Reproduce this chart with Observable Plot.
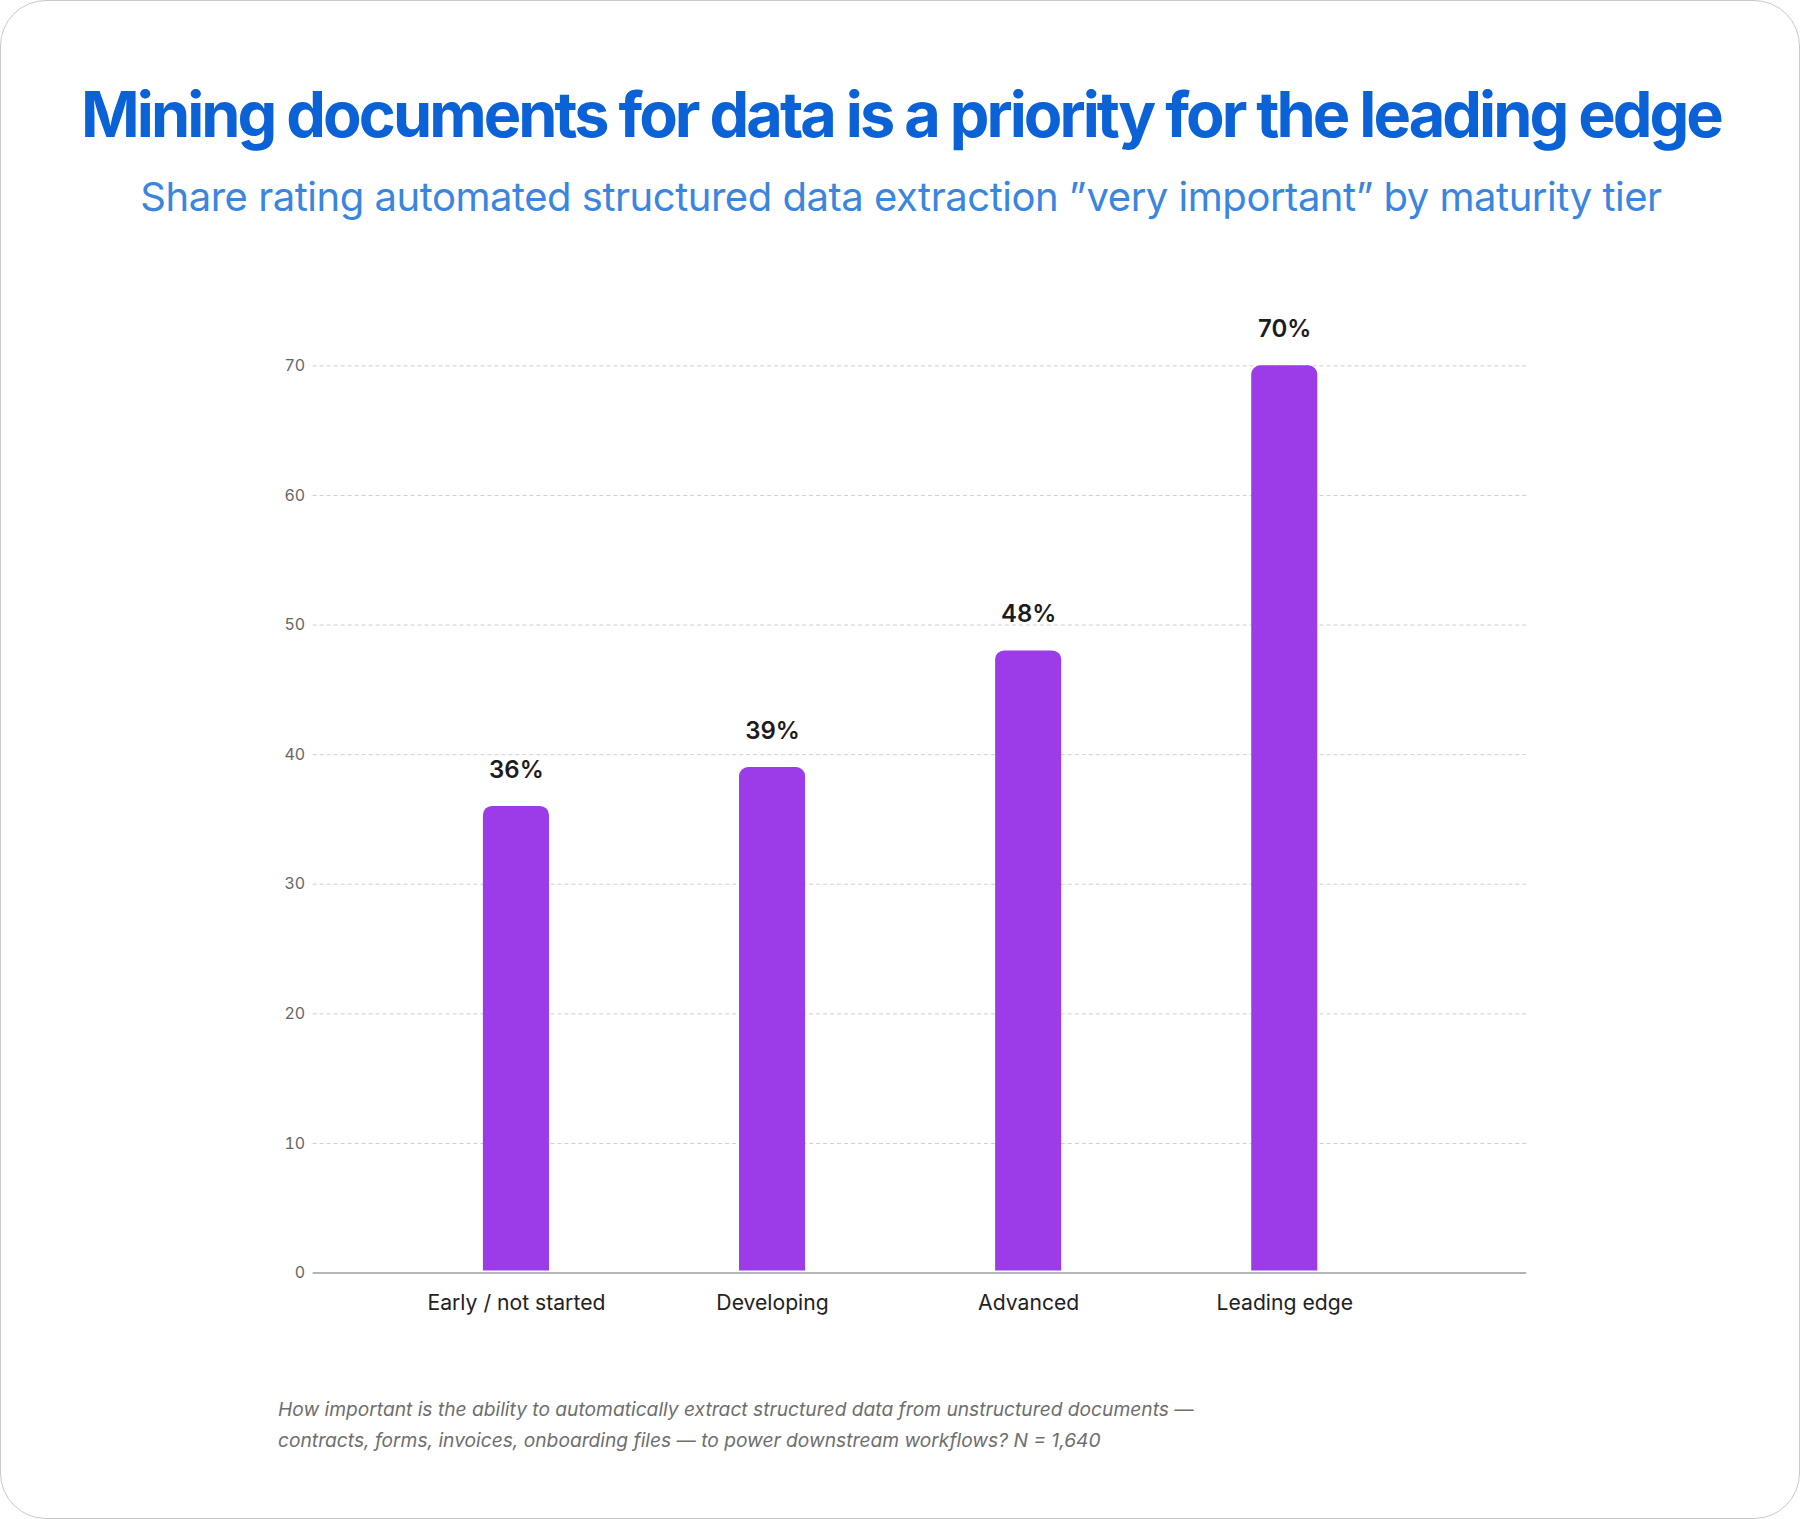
<!DOCTYPE html>
<html><head><meta charset="utf-8">
<script src="https://cdn.jsdelivr.net/npm/d3@7"></script>
<script src="https://cdn.jsdelivr.net/npm/@observablehq/plot@0.6"></script>
<style>
html,body{margin:0;padding:0;background:#fff;}
#card{position:relative;box-sizing:border-box;width:1800px;height:1519px;border:1.5px solid #c9c9c9;border-radius:46px;background:#fff;overflow:hidden;font-family:Inter, "Noto Sans", sans-serif;}
#title{position:absolute;left:0;top:82px;width:1800px;text-align:center;font-size:63px;line-height:63px;font-weight:700;color:#0b61d6;letter-spacing:-0.047em;white-space:nowrap;}
#subtitle{position:absolute;left:0;top:176px;width:1800px;text-align:center;font-size:40px;line-height:40px;font-weight:400;color:#3a86de;letter-spacing:-0.012em;white-space:nowrap;}
#chart{position:absolute;left:0;top:240px;}
#note{position:absolute;left:277px;top:1393px;font-size:19.2px;line-height:31px;font-style:italic;font-weight:400;color:#6e6e6e;white-space:nowrap;}
</style>
</head><body>
<div id="card">
  <div id="title">Mining documents for data is a priority for the leading edge</div>
  <div id="subtitle">Share rating automated structured data extraction ”very important” by maturity tier</div>
  <div id="chart"></div>
  <div id="note">How important is the ability to automatically extract structured data from unstructured documents —<br>contracts, forms, invoices, onboarding files — to power downstream workflows? N = 1,640</div>
</div>
<script>
const categories = ["Early / not started", "Developing", "Advanced", "Leading edge"];
const values = [36, 39, 48, 70];
const valueLabels = ["36%", "39%", "48%", "70%"];
const yTicks = [0, 10, 20, 30, 40, 50, 60, 70];

const data = categories.map((c, i) => ({tier: c, value: values[i], label: valueLabels[i]}));

const chart = Plot.plot({
  width: 1800,
  height: 1100,
  marginTop: 124.5,
  marginBottom: 67.3,
  marginLeft: 312,
  marginRight: 273,
  style: {fontFamily: "Inter, 'Noto Sans', sans-serif", background: "transparent", overflow: "visible"},
  x: {domain: categories, range: [292.2, 1508], padding: 0.742, align: 0.5, round: false, label: null},
  y: {domain: [0, 70], ticks: yTicks, label: null},
  marks: [
    Plot.ruleY(yTicks.filter(d => d > 0), {stroke: "#cfcfcf", strokeDasharray: "4,3", strokeWidth: 1}),
    Plot.barY(data, {x: "tier", y: "value", fill: "#9c3ce9", ry1: 9, insetBottom: 2}),
    Plot.ruleY([0], {stroke: "#9c9c9c", strokeWidth: 1.5}),
    Plot.text(data, {x: "tier", y: "value", text: "label", dy: -29, lineAnchor: "bottom", fontSize: 24, fontWeight: 600, fill: "#1c1c1c"}),
    Plot.axisY({ticks: yTicks, tickSize: 0, tickPadding: 8, fontSize: 16, fill: "#666", label: null}),
    Plot.axisX({tickSize: 0, tickPadding: 22, fontSize: 21.2, fill: "#222", label: null})
  ]
});
document.getElementById("chart").appendChild(chart);
</script>
</body></html>
